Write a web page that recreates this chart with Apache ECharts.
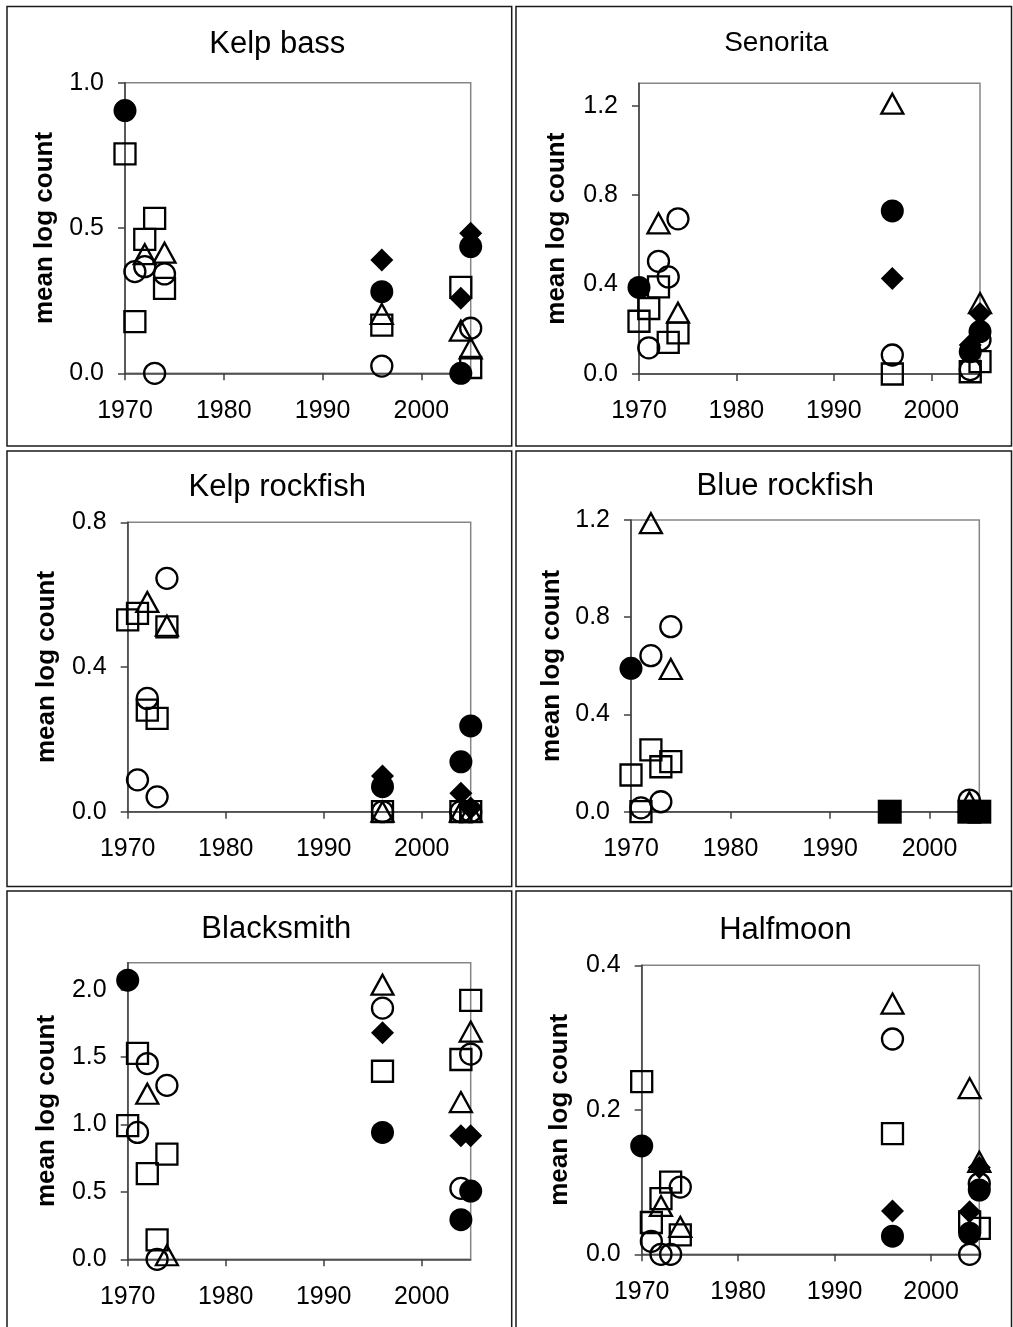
<!DOCTYPE html>
<html>
<head>
<meta charset="utf-8">
<script src="https://cdn.jsdelivr.net/npm/echarts@6/dist/echarts.min.js"></script>
<style>
html,body{margin:0;padding:0;background:#fff;}
#chart{width:1013px;height:1327px;}
</style>
</head>
<body>
<div id="chart"></div>
<script>
// ---------- DATA ----------
const years = [1970, 1971, 1972, 1973, 1974, 1996, 2004, 2005];
const xTicks = [1970, 1980, 1990, 2000];
const titles = ['Kelp bass', 'Senorita', 'Kelp rockfish', 'Blue rockfish', 'Blacksmith', 'Halfmoon'];
const yAxisTitle = 'mean log count';
const yMax = [1.0, 1.3, 0.8, 1.2, 2.2, 0.4];
const yTicks = [
  [0, 0.5, 1.0],
  [0, 0.4, 0.8, 1.2],
  [0, 0.4, 0.8],
  [0, 0.4, 0.8, 1.2],
  [0, 0.5, 1.0, 1.5, 2.0],
  [0, 0.2, 0.4]
];

// Kelp bass
const kbOpenSquare    = [0.755, 0.178, 0.461, 0.533, 0.292, 0.166, 0.296, 0.020];
const kbOpenCircle    = [null, 0.350, 0.367, 0.000, 0.342, 0.025, null, 0.155];
const kbOpenTriangle  = [null, null, 0.410, null, 0.415, 0.204, 0.147, 0.086];
const kbFilledCircle  = [0.904, null, null, null, null, 0.281, 0.000, 0.436];
const kbFilledDiamond = [null, null, null, null, null, 0.390, 0.258, 0.482];
const kbFilledSquare  = [null, null, null, null, null, null, null, null];

// Senorita
const snOpenSquare    = [0.236, 0.293, 0.390, 0.141, 0.184, 0.000, 0.010, 0.055];
const snOpenCircle    = [null, 0.117, 0.504, 0.434, 0.694, 0.085, 0.020, 0.152];
const snOpenTriangle  = [null, null, 0.674, null, 0.274, 1.209, null, 0.317];
const snFilledCircle  = [0.387, null, null, null, null, 0.729, 0.100, 0.190];
const snFilledDiamond = [null, null, null, null, null, 0.427, 0.130, 0.270];
const snFilledSquare  = [null, null, null, null, null, null, null, null];

// Kelp rockfish
const krOpenSquare    = [0.530, 0.548, 0.281, 0.258, 0.511, 0.000, 0.000, 0.000];
const krOpenCircle    = [null, 0.088, 0.313, 0.041, 0.645, 0.000, 0.000, 0.000];
const krOpenTriangle  = [null, null, 0.580, null, 0.514, 0.000, 0.000, 0.000];
const krFilledCircle  = [null, null, null, null, null, 0.069, 0.138, 0.237];
const krFilledDiamond = [null, null, null, null, null, 0.099, 0.051, 0.010];
const krFilledSquare  = [null, null, null, null, null, null, null, null];

// Blue rockfish
const brOpenSquare    = [0.151, 0.000, 0.254, 0.185, 0.206, null, null, null];
const brOpenCircle    = [null, 0.016, 0.642, 0.041, 0.761, null, 0.048, null];
const brOpenTriangle  = [null, null, 1.187, null, 0.587, null, 0.040, null];
const brFilledCircle  = [0.590, null, null, null, null, null, null, null];
const brFilledDiamond = [null, null, null, null, null, null, null, null];
const brFilledSquare  = [null, null, null, null, null, 0.000, 0.000, 0.000];

// Blacksmith
const bsOpenSquare    = [0.991, 1.527, 0.635, 0.144, 0.780, 1.395, 1.482, 1.920];
const bsOpenCircle    = [null, 0.941, 1.452, 0.000, 1.290, 1.863, 0.526, 1.522];
const bsOpenTriangle  = [null, null, 1.228, null, 0.030, 2.037, 1.166, 1.689];
const bsFilledCircle  = [2.070, null, null, null, null, 0.941, 0.294, 0.506];
const bsFilledDiamond = [null, null, null, null, null, 1.681, 0.917, 0.917];
const bsFilledSquare  = [null, null, null, null, null, null, null, null];

// Halfmoon
const hmOpenSquare    = [0.239, 0.044, 0.077, 0.100, 0.027, 0.167, 0.045, 0.036];
const hmOpenCircle    = [null, 0.018, 0.000, 0.000, 0.093, 0.298, 0.000, 0.098];
const hmOpenTriangle  = [null, null, 0.067, null, 0.038, 0.347, 0.230, 0.128];
const hmFilledCircle  = [0.150, null, null, null, null, 0.025, 0.029, 0.089];
const hmFilledDiamond = [null, null, null, null, null, 0.060, 0.059, 0.120];
const hmFilledSquare  = [null, null, null, null, null, null, null, null];

const panelData = [
  {fs: kbFilledSquare, ot: kbOpenTriangle, oc: kbOpenCircle, os: kbOpenSquare, fc: kbFilledCircle, fd: kbFilledDiamond},
  {fs: snFilledSquare, ot: snOpenTriangle, oc: snOpenCircle, os: snOpenSquare, fc: snFilledCircle, fd: snFilledDiamond},
  {fs: krFilledSquare, ot: krOpenTriangle, oc: krOpenCircle, os: krOpenSquare, fc: krFilledCircle, fd: krFilledDiamond},
  {fs: brFilledSquare, ot: brOpenTriangle, oc: brOpenCircle, os: brOpenSquare, fc: brFilledCircle, fd: brFilledDiamond},
  {fs: bsFilledSquare, ot: bsOpenTriangle, oc: bsOpenCircle, os: bsOpenSquare, fc: bsFilledCircle, fd: bsFilledDiamond},
  {fs: hmFilledSquare, ot: hmOpenTriangle, oc: hmOpenCircle, os: hmOpenSquare, fc: hmFilledCircle, fd: hmFilledDiamond}
];

// ---------- LAYOUT / STYLE ----------
const FONT = '"Liberation Sans", Arial, Helvetica, sans-serif';
const gridBoxes = [
  [125, 82.7, 345.7, 290.6],
  [639, 83.3, 341, 290.7],
  [127.7, 522.3, 343, 289.4],
  [631, 520, 348.3, 291.7],
  [127.7, 962.7, 343, 296.6],
  [641.7, 965.3, 337.6, 289]
];
const titlePos = [[277.3, 44.5], [776.3, 43], [277.2, 487.5], [785.3, 486.5], [276.3, 929.5], [785.5, 930]];
const titleSize = [31, 28, 31, 31, 31, 31];
const nameGaps = [67.5, 69, 67.8, 66, 67.8, 68.5];
const panelBoxes = [
  [7, 6.5, 504.7, 439.5], [516, 6.5, 495.5, 439.5],
  [7, 451, 504.7, 435.5], [516, 451, 495.5, 435.5],
  [7, 891, 504.7, 440], [516, 891, 495.5, 440]
];

const openItem = {color: 'rgba(0,0,0,0)', borderColor: '#000', borderWidth: 2.3, opacity: 1};
const markerStyles = {
  fs: {symbol: 'rect', size: 24, item: {color: '#000', opacity: 1}},
  ot: {symbol: 'triangle', size: [22, 20], item: openItem},
  oc: {symbol: 'circle', size: 21, item: openItem},
  os: {symbol: 'rect', size: 21, item: openItem},
  fc: {symbol: 'circle', size: 23, item: {color: '#000', opacity: 1}},
  fd: {symbol: 'diamond', size: 23, item: {color: '#000', opacity: 1}}
};
const drawOrder = ['fs', 'ot', 'oc', 'os', 'fc', 'fd'];

const grid = [], xAxis = [], yAxis = [], series = [], title = [], graphic = [];

gridBoxes.forEach((g, i) => {
  grid.push({left: g[0], top: g[1], width: g[2], height: g[3], show: true,
    borderColor: '#868686', borderWidth: 1.5, backgroundColor: 'transparent'});
  xAxis.push({
    type: 'value', gridIndex: i, min: 1970, max: 2005, interval: 10,
    axisLine: {show: true, onZero: false, lineStyle: {color: '#404040', width: 1.5}},
    axisTick: {show: true, length: 7, customValues: xTicks, lineStyle: {color: '#404040', width: 1.5}},
    axisLabel: {show: true, customValues: xTicks, margin: 25, color: '#000', fontSize: 25, fontFamily: FONT,
      formatter: v => String(v)},
    splitLine: {show: false}
  });
  yAxis.push({
    type: 'value', gridIndex: i, min: 0, max: yMax[i], interval: yTicks[i][1],
    name: yAxisTitle, nameLocation: 'middle', nameGap: nameGaps[i],
    nameTextStyle: {fontSize: 26, fontWeight: 'bold', color: '#000', fontFamily: FONT},
    axisLine: {show: true, onZero: false, lineStyle: {color: '#404040', width: 1.5}},
    axisTick: {show: true, length: 7, customValues: yTicks[i], lineStyle: {color: '#404040', width: 1.5}},
    axisLabel: {show: true, customValues: yTicks[i], margin: 21, color: '#000', fontSize: 25, fontFamily: FONT,
      formatter: v => Number(v).toFixed(1)},
    splitLine: {show: false}
  });
  title.push({
    text: titles[i], left: titlePos[i][0], top: titlePos[i][1], padding: 0,
    textAlign: 'center', textVerticalAlign: 'middle',
    textStyle: {fontSize: titleSize[i], fontWeight: 'normal', color: '#000', fontFamily: FONT}
  });
  drawOrder.forEach(key => {
    const vals = panelData[i][key];
    const data = [];
    years.forEach((y, k) => { if (vals[k] !== null) data.push([y, vals[k]]); });
    if (!data.length) return;
    const st = markerStyles[key];
    series.push({
      type: 'scatter', xAxisIndex: i, yAxisIndex: i, data: data,
      symbol: st.symbol, symbolSize: st.size, itemStyle: st.item,
      clip: false, silent: true, emphasis: {disabled: true}
    });
  });
});

panelBoxes.forEach(b => {
  graphic.push({type: 'rect', shape: {x: b[0], y: b[1], width: b[2], height: b[3]},
    style: {fill: 'none', stroke: '#1a1a1a', lineWidth: 1.5}, silent: true, z: 100});
});

const chart = echarts.init(document.getElementById('chart'), null, {renderer: 'canvas'});
chart.setOption({
  animation: false,
  backgroundColor: '#fff',
  title: title,
  grid: grid,
  xAxis: xAxis,
  yAxis: yAxis,
  series: series,
  graphic: graphic
});
</script>
</body>
</html>
